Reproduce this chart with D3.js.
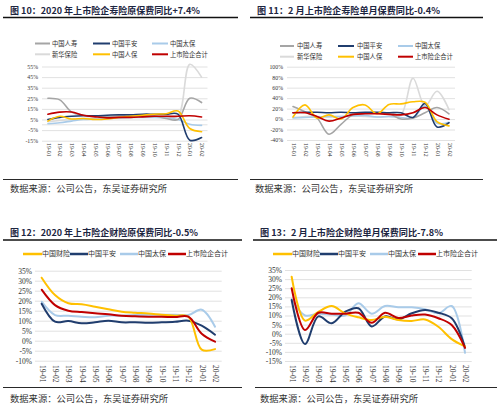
<!DOCTYPE html>
<html><head><meta charset="utf-8">
<script src="https://cdn.jsdelivr.net/npm/d3@7"></script>
<style>
html,body{margin:0;padding:0;background:#fff;}
svg{display:block;}
</style></head>
<body>
<svg id="c" width="499" height="407"></svg>
<script>
// ---------- data ----------
const months = ["19-01","19-02","19-03","19-04","19-05","19-06","19-07","19-08","19-09","19-10","19-11","19-12","20-01","20-02"];

const lifeNames = ["中国人寿","中国平安","中国太保","新华保险","中国人保","上市险企合计"];
const propNames = ["中国财险","中国平安","中国太保","上市险企合计"];

// Fig 10: life premium YTD growth (%)
const ytdChinaLife = [25, 23.5, 12, 9, 8, 8, 8.5, 9, 9, 8.5, 6, 5, 25, 21];
const ytdPingAnLife = [5, 7, 8, 8.5, 8.5, 9, 9.5, 9.5, 10, 10, 10, 10, -14.5, -12];
const ytdCpicLife = [1, 2, 3.5, 5, 5.5, 6, 6.5, 7, 7, 7, 6.5, 5, 0.5, -0.5];
const ytdNci = [3, 4, 5, 6, 6, 6, 6.5, 7, 7.5, 8, 8.5, 8, 57, 45];
const ytdPiccLife = [3.5, 8, 5.5, 6, 5, 5.5, 7, 8, 9, 10, 10.5, 13, -3.5, -6.5];
const ytdLifeTotal = [10, 12, 12, 9, 7.5, 6.5, 7, 7, 7.5, 8, 8, 8, 8.5, 7.4];

// Fig 11: life premium monthly growth (%)
const monChinaLife = [24, 14, 2, -29, -10, 8, 11, 11, 10, 0, 2, 12, 22, 10];
const monPingAnLife = [12, 13, 13, 12, 13, 12, 13, 13, 12, 12, 3, 30, -15, -7];
const monCpicLife = [2, 3, 4, 5, 5, 6, 7, 4, 5, 3, 2, 25, -8, -6];
const monNci = [3, 5, 5, 4, 5, 6, 5, 4, 5, 8, 78, 25, 53, 18];
const monPiccLife = [4, 27, 2, 8, 0, 22, 27, 10, 28, 29, 33, 32, -5, -13];
const monLifeTotal = [12, 12, 5, -4, 2, 9, 10, 10, 9, 8, 12, 22, 8, -0.4];

// Fig 12: P&C premium YTD growth (%)
const ytdPicc = [31.5, 22.8, 18.7, 18.2, 17, 15.7, 14.5, 14, 13.6, 13, 12.5, 12, -4.5, -4.2];
const ytdPingAnProp = [18.5, 9.5, 9.8, 8.7, 9.2, 10, 9.2, 9.2, 9, 9.2, 9.5, 10, 7.5, 3];
const ytdCpicProp = [19.5, 12.8, 12.5, 12, 11.7, 12.5, 12.5, 12.8, 13, 13, 13, 12.8, 15.5, 7];
const ytdPropTotal = [25.5, 17.8, 15, 14.3, 13.7, 13.2, 12.5, 12.2, 12, 12, 11.8, 12, 3.5, -0.5];

// Fig 13: P&C premium monthly growth (%)
const monPicc = [31.3, 7.2, 12, 15.2, 11.2, 9, 7.5, 9.3, 7.5, 7, 7.8, 3.8, -3, -7];
const monPingAnProp = [18.5, -5.7, 9.5, 5.7, 12, 14, 4, 9.5, 7.9, 11.2, 13, 11.5, 8.5, -7.5];
const monCpicProp = [19, 10, 11, 10.5, 10, 16.7, 11, 15.2, 14.5, 14.5, 13.5, 11.2, 15.2, -10.5];
const monPropTotal = [25, 2, 11.5, 11, 11, 11.5, 6, 11.5, 8.6, 10, 10.5, 8.5, 4.8, -7.8];

const ticks1 = [55, 45, 35, 25, 15, 5, -5, -15];
const ticks2 = [100, 80, 60, 40, 20, 0, -20, -40];
const ticks3 = [35, 30, 25, 20, 15, 10, 5, 0, -5, -10];
const ticks4 = [35, 30, 25, 20, 15, 10, 5, 0, -5, -10, -15];

const titles = [
  "图 10：2020 年上市险企寿险原保费同比+7.4%",
  "图 11：2 月上市险企寿险单月保费同比-0.4%",
  "图 12：2020 年上市险企财险原保费同比-0.5%",
  "图 13：2 月上市险企财险单月保费同比-7.8%"
];
const sourceText = "数据来源：公司公告，东吴证券研究所";

// ---------- styles ----------
const colors = {
  "中国人寿": "#a5a5a5", "中国平安": "#203d6e", "中国太保": "#a9cbe9",
  "新华保险": "#dadada", "中国人保": "#ffc000", "上市险企合计": "#c00000",
  "中国财险": "#ffc000"
};
const svg = d3.select("#c");
const CJK = "'Noto Sans CJK SC','Noto Sans',sans-serif";
const SERIF = "'Liberation Serif','DejaVu Serif',serif";

function frame(t, tx0, tx1, ty, ux0, ux1, uy, sx0, sx1, sy, lx0, lx1, ly) {
  svg.append("text").attr("x", tx0).attr("y", ty).text(t)
    .attr("font-family", CJK).attr("font-weight", "bold").attr("font-size", 9)
    .attr("fill", "#1c2541").attr("textLength", tx1 - tx0).attr("lengthAdjust", "spacingAndGlyphs");
  svg.append("line").attr("x1", ux0).attr("x2", ux1).attr("y1", uy).attr("y2", uy)
    .attr("stroke", "#111").attr("stroke-width", 1.3);
  svg.append("line").attr("x1", lx0).attr("x2", lx1).attr("y1", ly).attr("y2", ly)
    .attr("stroke", "#111").attr("stroke-width", 0.9);
  svg.append("text").attr("x", sx0).attr("y", sy).text(sourceText)
    .attr("font-family", CJK).attr("font-size", 9).attr("fill", "#333")
    .attr("textLength", sx1 - sx0).attr("lengthAdjust", "spacingAndGlyphs");
}

function panel(cfg) {
  const g = svg.append("g");
  const x = d3.scalePoint().domain(months).range([cfg.x0, cfg.x1]).padding(0.5);
  const y = d3.scaleLinear().domain(cfg.domain).range([cfg.yb, cfg.yt]);
  // gridlines
  const grid = g.append("g").attr("transform", `translate(${cfg.x0},0)`)
    .call(d3.axisLeft(y).tickValues(cfg.ticks).tickSize(-(cfg.x1 - cfg.x0)).tickFormat(""));
  grid.select(".domain").remove();
  grid.selectAll("line").attr("stroke", "#d9d9d9").attr("stroke-width", 0.8);
  if (cfg.zeroAxis) {
    g.append("line").attr("x1", cfg.x0).attr("x2", cfg.x1).attr("y1", y(0)).attr("y2", y(0))
      .attr("stroke", "#d9d9d9").attr("stroke-width", 0.8);
  }
  // y labels
  const ya = g.append("g").attr("transform", `translate(${cfg.x0 - cfg.lblGap},0)`)
    .call(d3.axisLeft(y).tickValues(cfg.ticks).tickSize(0).tickPadding(0).tickFormat(d => d + "%"));
  ya.select(".domain").remove();
  ya.selectAll("text").attr("font-family", SERIF).attr("font-size", cfg.fs).attr("fill", "#333");
  // x labels
  const xa = g.append("g").attr("transform", `translate(0,${cfg.xLblY})`)
    .call(d3.axisBottom(x).tickSize(0).tickPadding(0));
  xa.select(".domain").remove();
  xa.selectAll("text").attr("font-family", SERIF).attr("font-size", cfg.fs).attr("fill", "#333")
    .attr("transform", "rotate(90)").attr("text-anchor", "start").attr("dy", "0.32em").attr("y", 0).attr("x", 0);
  // lines
  const line = d3.line().x((d, i) => x(months[i])).y(d => y(d)).curve(d3.curveCatmullRom.alpha(0.5));
  cfg.order.forEach(k => {
    const s = cfg.series[k];
    g.append("path").datum(s.values).attr("d", line).attr("fill", "none")
      .attr("stroke", colors[s.name]).attr("stroke-width", cfg.lw)
      .attr("stroke-linejoin", "round").attr("stroke-linecap", "round");
  });
  // legend
  cfg.legend.forEach(it => {
    g.append("line").attr("x1", it.lx0).attr("x2", it.lx1).attr("y1", it.y).attr("y2", it.y)
      .attr("stroke", colors[it.name]).attr("stroke-width", cfg.legLw);
    g.append("text").attr("x", it.tx).attr("y", it.y).attr("dy", "0.35em").text(it.name)
      .attr("font-family", CJK).attr("font-size", cfg.legFs).attr("fill", "#333");
  });
}

// Fig 10
frame(titles[0], 10, 200, 13.5, 3, 238, 17.5, 10, 167, 191.5, 3, 238, 179.5);
panel({
  x0: 42, x1: 207.5, yb: 140.7, yt: 66.5, domain: [-15, 55], ticks: ticks1, zeroAxis: true,
  lblGap: 4, fs: 5.8, xLblY: 143, lw: 1.6, legLw: 2, legFs: 6.3,
  series: [
    {name: lifeNames[0], values: ytdChinaLife}, {name: lifeNames[1], values: ytdPingAnLife},
    {name: lifeNames[2], values: ytdCpicLife}, {name: lifeNames[3], values: ytdNci},
    {name: lifeNames[4], values: ytdPiccLife}, {name: lifeNames[5], values: ytdLifeTotal}],
  order: [3, 2, 0, 1, 4, 5],
  legend: [
    {name: lifeNames[0], lx0: 35, lx1: 50, tx: 52, y: 43.5}, {name: lifeNames[1], lx0: 93, lx1: 110, tx: 112, y: 43.5},
    {name: lifeNames[2], lx0: 152, lx1: 168, tx: 170, y: 43.5}, {name: lifeNames[3], lx0: 35, lx1: 50, tx: 52, y: 54.3},
    {name: lifeNames[4], lx0: 93, lx1: 110, tx: 112, y: 54.3}, {name: lifeNames[5], lx0: 152, lx1: 168, tx: 170, y: 54.3}]
});

// Fig 11
frame(titles[1], 257, 440, 13.5, 250, 483, 17.5, 255, 413, 192, 250, 483, 179.5);
panel({
  x0: 287, x1: 455, yb: 140, yt: 66.7, domain: [-40, 100], ticks: ticks2, zeroAxis: false,
  lblGap: 4, fs: 5.8, xLblY: 143, lw: 1.6, legLw: 2, legFs: 6.3,
  series: [
    {name: lifeNames[0], values: monChinaLife}, {name: lifeNames[1], values: monPingAnLife},
    {name: lifeNames[2], values: monCpicLife}, {name: lifeNames[3], values: monNci},
    {name: lifeNames[4], values: monPiccLife}, {name: lifeNames[5], values: monLifeTotal}],
  order: [3, 2, 0, 1, 4, 5],
  legend: [
    {name: lifeNames[0], lx0: 280, lx1: 294, tx: 297, y: 46}, {name: lifeNames[1], lx0: 338, lx1: 354, tx: 357, y: 46},
    {name: lifeNames[2], lx0: 398, lx1: 413, tx: 415, y: 46}, {name: lifeNames[3], lx0: 280, lx1: 294, tx: 297, y: 56.7},
    {name: lifeNames[4], lx0: 338, lx1: 354, tx: 357, y: 56.7}, {name: lifeNames[5], lx0: 398, lx1: 413, tx: 415, y: 56.7}]
});

// Fig 12
frame(titles[2], 10, 198, 235.5, 3, 242, 240, 10, 168, 401.5, 3, 242, 387.5);
panel({
  x0: 35, x1: 221.7, yb: 360.7, yt: 270.7, domain: [-10, 35], ticks: ticks3, zeroAxis: false,
  lblGap: 3, fs: 7.5, xLblY: 365, lw: 2, legLw: 2.5, legFs: 7,
  series: [
    {name: propNames[0], values: ytdPicc}, {name: propNames[1], values: ytdPingAnProp},
    {name: propNames[2], values: ytdCpicProp}, {name: propNames[3], values: ytdPropTotal}],
  order: [2, 1, 0, 3],
  legend: [
    {name: propNames[0], lx0: 23, lx1: 42, tx: 42, y: 254}, {name: propNames[1], lx0: 70, lx1: 88, tx: 88, y: 254},
    {name: propNames[2], lx0: 120, lx1: 138, tx: 138, y: 254}, {name: propNames[3], lx0: 168, lx1: 186, tx: 186, y: 254}]
});

// Fig 13
frame(titles[3], 260, 443, 235.5, 253, 497, 240, 260, 418, 401.5, 255, 497, 387.5);
panel({
  x0: 285, x1: 471.7, yb: 361, yt: 270, domain: [-15, 35], ticks: ticks4, zeroAxis: false,
  lblGap: 3, fs: 7.5, xLblY: 365, lw: 2, legLw: 2.5, legFs: 7,
  series: [
    {name: propNames[0], values: monPicc}, {name: propNames[1], values: monPingAnProp},
    {name: propNames[2], values: monCpicProp}, {name: propNames[3], values: monPropTotal}],
  order: [2, 1, 0, 3],
  legend: [
    {name: propNames[0], lx0: 273, lx1: 292, tx: 292, y: 254}, {name: propNames[1], lx0: 320, lx1: 338, tx: 338, y: 254},
    {name: propNames[2], lx0: 370, lx1: 388, tx: 388, y: 254}, {name: propNames[3], lx0: 418, lx1: 436, tx: 436, y: 254}]
});
</script>
</body></html>
